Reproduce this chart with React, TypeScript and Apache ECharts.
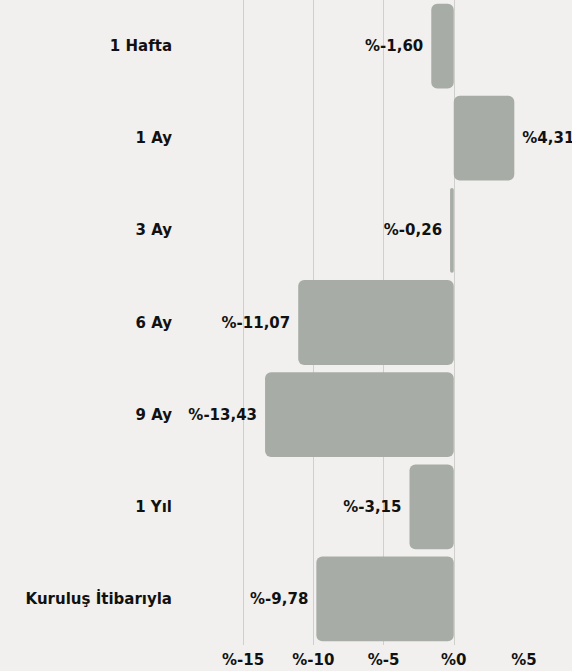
import React, { useEffect, useRef } from "react";
import * as echarts from "echarts";

const categories = ["1 Hafta", "1 Ay", "3 Ay", "6 Ay", "9 Ay", "1 Yıl", "Kuruluş İtibarıyla"];
const values = [-1.6, 4.31, -0.26, -11.07, -13.43, -3.15, -9.78];
const xTicks = [-15, -10, -5, 0, 5];

const FONT = "DejaVu Sans";
const fmt = (v: number) => "%" + v.toFixed(2).replace(".", ",");

export default function App() {
  const ref = useRef<HTMLDivElement>(null);
  useEffect(() => {
    document.body.style.margin = "0";
    document.body.style.background = "#f1f0ee";
    const chart = echarts.init(ref.current!, null, { renderer: "svg" });
    chart.setOption({
      animation: false,
      backgroundColor: "#f1f0ee",
      grid: { left: 243, right: 48, top: 0, bottom: 26, containLabel: false },
      xAxis: {
        type: "value",
        min: xTicks[0],
        max: xTicks[xTicks.length - 1],
        interval: 5,
        axisLine: { show: false },
        axisTick: { show: false },
        splitLine: { show: true, showMaxLine: false, lineStyle: { color: "#cfcfcc", width: 1 } },
        axisLabel: {
          margin: 7,
          color: "#111",
          fontFamily: FONT,
          fontWeight: "bold",
          fontSize: 15,
          formatter: (v: number) => "%" + v,
        },
      },
      yAxis: {
        type: "category",
        data: categories,
        inverse: true,
        axisLine: { show: false, onZero: false },
        axisTick: { show: false },
        axisLabel: {
          margin: 71,
          color: "#111",
          fontFamily: FONT,
          fontWeight: "bold",
          fontSize: 15,
        },
      },
      series: [
        {
          type: "bar",
          data: values.map((v) => ({
            value: v,
            label: { position: v < 0 ? "left" : "right" },
          })),
          barCategoryGap: "8%",
          itemStyle: { color: "#a8aca6", borderRadius: 6 },
          label: {
            show: true,
            distance: 8,
            color: "#111",
            fontFamily: FONT,
            fontWeight: "bold",
            fontSize: 15,
            formatter: (p: any) => fmt(p.value),
          },
        },
      ],
    });
    return () => chart.dispose();
  }, []);
  return <div ref={ref} style={{ width: 572, height: 671 }} />;
}
